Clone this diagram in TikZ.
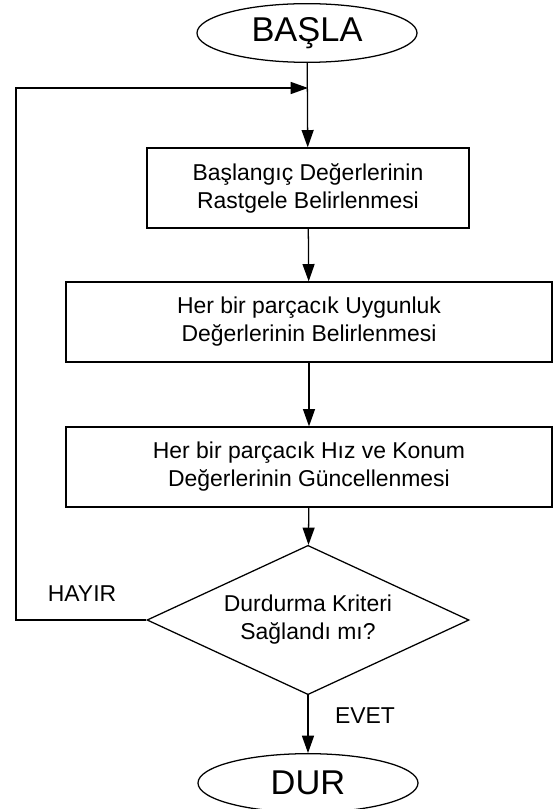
\documentclass[tikz,border=0pt]{standalone}
\usepackage{fontspec}
\setmainfont{Liberation Sans}
\usetikzlibrary{arrows.meta,shapes.geometric}

\begin{document}
\begin{tikzpicture}[x=0.75pt,y=-0.75pt,line width=0.95pt,
    >={Triangle[length=13pt,width=9pt]},
    font=\fontsize{17.2pt}{21pt}\selectfont]
  \tikzstyle{term}=[draw,ellipse,inner sep=0pt,minimum width=165pt,minimum height=44pt,
    font=\fontsize{25.8pt}{28pt}\selectfont]
  \tikzstyle{proc}=[draw,rectangle,align=center,minimum height=60pt]
  \tikzstyle{cond}=[draw,diamond,aspect=2.15,inner sep=0pt,align=center,
    minimum width=241.5pt,minimum height=112pt]
  \useasboundingbox (0,0) rectangle (553,809);
  \node[term] (start) at (307,33) {BAŞLA};
  \node[proc,minimum width=241.5pt] (init) at (308,188) {Başlangıç Değerlerinin\\Rastgele Belirlenmesi};
  \node[proc,minimum width=364.5pt] (fit) at (309,322) {Her bir parçacık Uygunluk\\Değerlerinin Belirlenmesi};
  \node[proc,minimum width=364.5pt] (upd) at (309,467) {Her bir parçacık Hız ve Konum\\Değerlerinin Güncellenmesi};
  \node[cond] (stop) at (308,620) {Durdurma Kriteri\\Sağlandı mı?};
  \node[term] (end) at (308,783) {DUR};
  \coordinate (join) at (308,88);
  \coordinate (corner) at (16,88);
  \draw[->] (start) -- (init);
  \draw[->] (init) -- (fit);
  \draw[->] (fit) -- (upd);
  \draw[->] (upd) -- (stop);
  \draw[->] (stop) -- (end);
  \draw[->] (stop.west) -| (corner) -- (join);
  \node (no) at (82,594) {HAYIR};
  \node (yes) at (365,716) {EVET};
\end{tikzpicture}
\end{document}
